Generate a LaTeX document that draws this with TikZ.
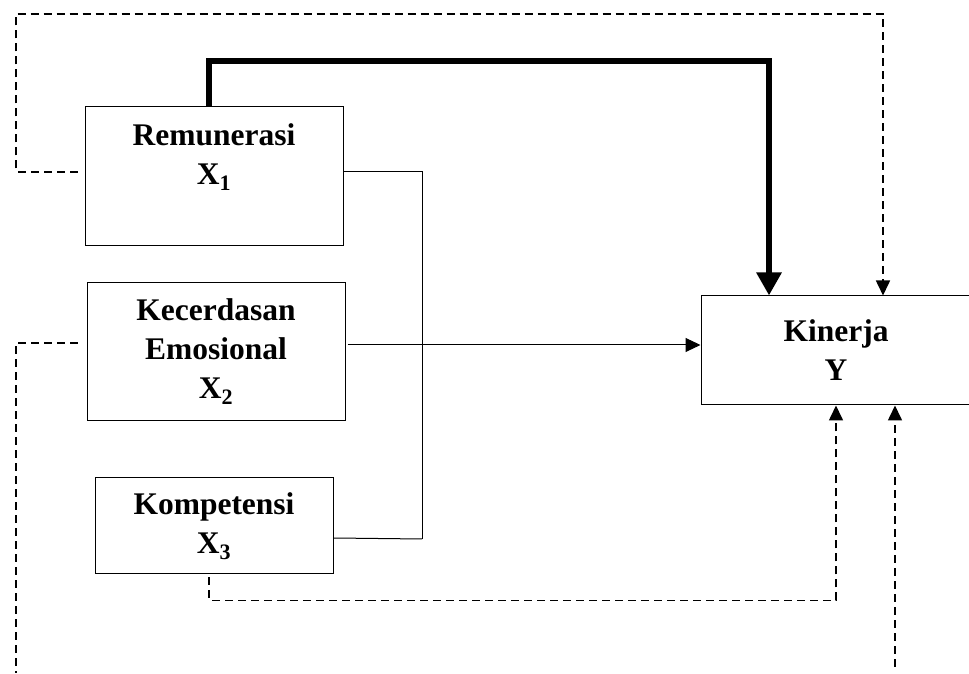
\documentclass[tikz,border=0pt]{standalone}
\usepackage{fontspec}
\setmainfont{Liberation Serif}
\usetikzlibrary{arrows.meta,positioning}
\begin{document}
\begin{tikzpicture}[x=1pt, y=1pt, line join=miter,
	box/.style={draw, line width=1pt, inner sep=0pt},
	lbl/.style={font=\fontsize{31.5}{39}\selectfont\bfseries, align=center},
	link/.style={line width=1pt},
	dashline/.style={line width=1.6pt, dash pattern=on 8pt off 5pt},
	tip/.style={-{Triangle[length=15pt,width=14pt]}},
	bigtip/.style={-{Triangle[length=23pt,width=24pt]}}]
	\useasboundingbox (0,0) rectangle (969,674);
	\clip (0,0) rectangle (969,674);
	% variables
	\node[box, minimum width=258, minimum height=139] (remu) at (214,497.5) {};
	\node[lbl] (remut) at (214,517) {Remunerasi\\X\textsubscript{1}};
	\node[box, lbl, minimum width=258, minimum height=138] (emo) at (216,322) {Kecerdasan\\Emosional\\X\textsubscript{2}};
	\node[box, lbl, minimum width=238, minimum height=96] (komp) at (214,148) {Kompetensi\\X\textsubscript{3}};
	\node[box, lbl, minimum width=270, minimum height=109] (kin) at (836,323.5) {Kinerja\\Y};
	\coordinate (bustop) at (422,502);
	\coordinate (busbot) at (422,135);
	\coordinate (tl) at (16,660);
	\coordinate (bl) at (16,1);
	\coordinate (br) at (895,7);
	% simultaneous path
	\draw[link] ([yshift=4.5pt]remu.east) -- (bustop) -- (busbot);
	\draw[link] ([yshift=-12pt]komp.east) -- (busbot);
	\draw[link, tip] ([shift={(2pt,7pt)}]emo.east) -- ([yshift=5.5pt]kin.west);
	% partial paths
	\draw[line width=6pt, bigtip] ([xshift=-5pt]remu.north) -- ++(0,45) -| ([xshift=-67pt]kin.north);
	\draw[dashline, tip] ([shift={(-7pt,4.5pt)}]remu.west) -| (tl) -| ([xshift=47pt]kin.north);
	\draw[dashline] ([shift={(-9pt,9pt)}]emo.west) -| (bl);
	\draw[dashline, tip] ([shift={(-5pt,-3pt)}]komp.south) -- ++(0,-23) -| (kin.south);
	\draw[dashline, tip] (br) -- ([xshift=59pt]kin.south);
\end{tikzpicture}
\end{document}
